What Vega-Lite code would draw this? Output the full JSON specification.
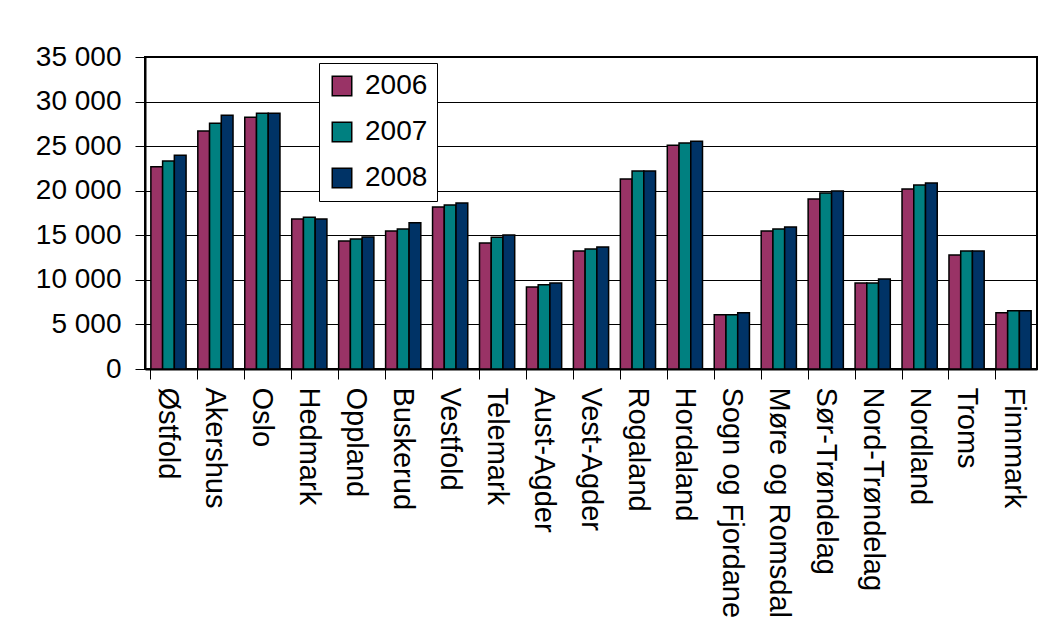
{
  "$schema": "https://vega.github.io/schema/vega-lite/v6.json",
  "width": 892,
  "height": 312,
  "autosize": "none",
  "padding": {"left": 145, "top": 57, "right": 27, "bottom": 272},
  "background": "white",
  "data": {
    "values": [
      {"fylke": "Østfold", "year": "2006", "value": 22680},
      {"fylke": "Østfold", "year": "2007", "value": 23320},
      {"fylke": "Østfold", "year": "2008", "value": 23990},
      {"fylke": "Akershus", "year": "2006", "value": 26710},
      {"fylke": "Akershus", "year": "2007", "value": 27580},
      {"fylke": "Akershus", "year": "2008", "value": 28470},
      {"fylke": "Oslo", "year": "2006", "value": 28250},
      {"fylke": "Oslo", "year": "2007", "value": 28700},
      {"fylke": "Oslo", "year": "2008", "value": 28700},
      {"fylke": "Hedmark", "year": "2006", "value": 16830},
      {"fylke": "Hedmark", "year": "2007", "value": 17020},
      {"fylke": "Hedmark", "year": "2008", "value": 16830},
      {"fylke": "Oppland", "year": "2006", "value": 14360},
      {"fylke": "Oppland", "year": "2007", "value": 14590},
      {"fylke": "Oppland", "year": "2008", "value": 14810},
      {"fylke": "Buskerud", "year": "2006", "value": 15490},
      {"fylke": "Buskerud", "year": "2007", "value": 15710},
      {"fylke": "Buskerud", "year": "2008", "value": 16420},
      {"fylke": "Vestfold", "year": "2006", "value": 18170},
      {"fylke": "Vestfold", "year": "2007", "value": 18400},
      {"fylke": "Vestfold", "year": "2008", "value": 18620},
      {"fylke": "Telemark", "year": "2006", "value": 14140},
      {"fylke": "Telemark", "year": "2007", "value": 14780},
      {"fylke": "Telemark", "year": "2008", "value": 15040},
      {"fylke": "Aust-Agder", "year": "2006", "value": 9210},
      {"fylke": "Aust-Agder", "year": "2007", "value": 9440},
      {"fylke": "Aust-Agder", "year": "2008", "value": 9660},
      {"fylke": "Vest-Agder", "year": "2006", "value": 13250},
      {"fylke": "Vest-Agder", "year": "2007", "value": 13470},
      {"fylke": "Vest-Agder", "year": "2008", "value": 13690},
      {"fylke": "Rogaland", "year": "2006", "value": 21310},
      {"fylke": "Rogaland", "year": "2007", "value": 22200},
      {"fylke": "Rogaland", "year": "2008", "value": 22200},
      {"fylke": "Hordaland", "year": "2006", "value": 25110},
      {"fylke": "Hordaland", "year": "2007", "value": 25340},
      {"fylke": "Hordaland", "year": "2008", "value": 25560},
      {"fylke": "Sogn og Fjordane", "year": "2006", "value": 6080},
      {"fylke": "Sogn og Fjordane", "year": "2007", "value": 6080},
      {"fylke": "Sogn og Fjordane", "year": "2008", "value": 6300},
      {"fylke": "Møre og Romsdal", "year": "2006", "value": 15490},
      {"fylke": "Møre og Romsdal", "year": "2007", "value": 15710},
      {"fylke": "Møre og Romsdal", "year": "2008", "value": 15930},
      {"fylke": "Sør-Trøndelag", "year": "2006", "value": 19070},
      {"fylke": "Sør-Trøndelag", "year": "2007", "value": 19740},
      {"fylke": "Sør-Trøndelag", "year": "2008", "value": 19960},
      {"fylke": "Nord-Trøndelag", "year": "2006", "value": 9660},
      {"fylke": "Nord-Trøndelag", "year": "2007", "value": 9660},
      {"fylke": "Nord-Trøndelag", "year": "2008", "value": 10110},
      {"fylke": "Nordland", "year": "2006", "value": 20190},
      {"fylke": "Nordland", "year": "2007", "value": 20640},
      {"fylke": "Nordland", "year": "2008", "value": 20860},
      {"fylke": "Troms", "year": "2006", "value": 12800},
      {"fylke": "Troms", "year": "2007", "value": 13250},
      {"fylke": "Troms", "year": "2008", "value": 13250},
      {"fylke": "Finnmark", "year": "2006", "value": 6300},
      {"fylke": "Finnmark", "year": "2007", "value": 6530},
      {"fylke": "Finnmark", "year": "2008", "value": 6530}
    ]
  },
  "mark": {"type": "bar", "stroke": "black", "strokeWidth": 1.5},
  "encoding": {
    "x": {
      "field": "fylke",
      "type": "nominal",
      "sort": null,
      "scale": {"paddingInner": 0.25, "paddingOuter": 0.125},
      "axis": {
        "title": null,
        "labelAngle": 90,
        "labelFontSize": 29,
        "labelFont": "Liberation Sans",
        "labelColor": "black",
        "labelLimit": 0,
        "tickSize": 10,
        "tickColor": "black",
        "tickWidth": 1,
        "bandPosition": 0,
        "labelPadding": 8,
        "domainColor": "black",
        "domainWidth": 2,
        "grid": false
      }
    },
    "xOffset": {"field": "year", "scale": {"paddingInner": 0}},
    "y": {
      "field": "value",
      "type": "quantitative",
      "scale": {"domain": [0, 35000], "nice": false},
      "axis": {
        "title": null,
        "values": [0, 5000, 10000, 15000, 20000, 25000, 30000, 35000],
        "labelExpr": "replace(format(datum.value, ','), ',', ' ')",
        "labelFontSize": 28,
        "labelFont": "Liberation Sans",
        "labelColor": "black",
        "tickSize": 10,
        "tickColor": "black",
        "labelPadding": 14,
        "domainColor": "black",
        "domainWidth": 2,
        "grid": true,
        "gridColor": "black",
        "gridWidth": 1,
        "gridOpacity": 1
      }
    },
    "color": {
      "field": "year",
      "type": "nominal",
      "scale": {"domain": ["2006", "2007", "2008"], "range": ["#993366", "#008080", "#003366"]},
      "legend": {
        "orient": "none",
        "legendX": 174,
        "legendY": 6,
        "title": null,
        "strokeColor": "black",
        "fillColor": "white",
        "padding": 9,
        "labelFontSize": 28,
        "labelFont": "Liberation Sans",
        "labelColor": "black",
        "labelOffset": 9,
        "symbolType": "square",
        "symbolSize": 380,
        "symbolStrokeColor": "black",
        "symbolStrokeWidth": 1.5,
        "symbolOpacity": 1,
        "rowPadding": 18
      }
    }
  },
  "config": {
    "view": {"stroke": "black", "strokeWidth": 2}
  }
}
